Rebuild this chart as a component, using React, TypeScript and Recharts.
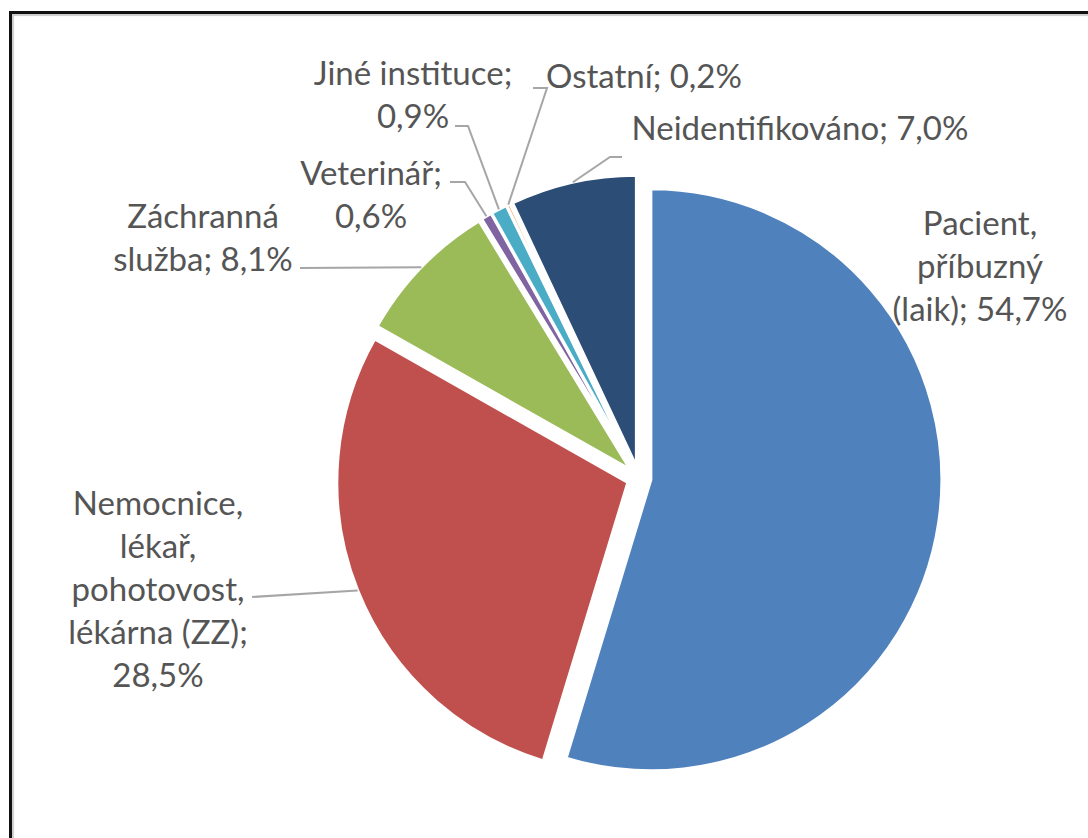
import { PieChart, Pie, Cell, Sector } from 'recharts'

// data
const categories = [
  'Pacient, příbuzný (laik)',
  'Nemocnice, lékař, pohotovost, lékárna (ZZ)',
  'Záchranná služba',
  'Veterinář',
  'Jiné instituce',
  'Ostatní',
  'Neidentifikováno',
]
const shares = [54.7, 28.5, 8.1, 0.6, 0.9, 0.2, 7.0]
const colors = ['#4F81BD', '#C0504D', '#9BBB59', '#8064A2', '#4BACC6', '#F79646', '#2C4D75']

// how many words go on each label line
const lineWords = [[1, 1, 2], [1, 1, 1, 2, 1], [1, 2], [1, 1], [2, 1], [2], [2]]

// label block centre (first line), relative to pie centre
const labelAnchor = [[341, -256], [-481, 24], [-436, -263], [-268, -306], [-226, -406], [5, -403], [161, -351]]
// leader line start (near the label) + horizontal elbow length
const leaderStart: ([number, number] | null)[] = [null, [-387, 119], [-339, -210], [-189, -296], [-184, -352], [-106, -390], [-17, -321]]
const leaderElbow = [0, 0, 0, 15, 13, 14, -12]

const data = categories.map((name, i) => ({ name, value: shares[i] }))

const W = 1088
const H = 838
const EXPLODE = 12
const RAD = Math.PI / 180
const LINE_H = 43
const FONT = 'Lato, "Open Sans", sans-serif'

const fmt = (v: number) => v.toFixed(1).replace('.', ',') + '%'

const ExplodedSector = (props: any) => {
  const { cx, cy, midAngle } = props
  return (
    <Sector
      {...props}
      cx={cx + EXPLODE * Math.cos(-midAngle * RAD)}
      cy={cy + EXPLODE * Math.sin(-midAngle * RAD)}
    />
  )
}

const renderLabel = (props: any) => {
  const { cx, cy, midAngle, outerRadius, index } = props
  const words = `${categories[index]}; ${fmt(shares[index])}`.split(' ')
  const lines: string[] = []
  let k = 0
  lineWords[index].forEach(n => {
    lines.push(words.slice(k, k + n).join(' '))
    k += n
  })
  const [ax, ay] = labelAnchor[index]
  const start = leaderStart[index]
  const r = outerRadius + EXPLODE
  const ex = cx + r * Math.cos(-midAngle * RAD)
  const ey = cy + r * Math.sin(-midAngle * RAD)
  return (
    <g key={`lbl-${index}`}>
      {start && (
        <polyline
          points={`${cx + start[0]},${cy + start[1]} ${cx + start[0] + leaderElbow[index]},${cy + start[1]} ${ex},${ey}`}
          fill="none"
          stroke="#A6A6A6"
          strokeWidth={2}
        />
      )}
      <text x={cx + ax} y={cy + ay} textAnchor="middle" dominantBaseline="central" fill="#555" fontSize={33} fontFamily={FONT}>
        {lines.map((t, j) => (
          <tspan key={j} x={cx + ax} dy={j === 0 ? 0 : LINE_H}>{t}</tspan>
        ))}
      </text>
    </g>
  )
}

export default function App() {
  return (
    <div style={{ position: 'relative', width: W, height: H, overflow: 'hidden', background: '#fff' }}>
      <style>{'body{margin:0}'}</style>
      <div style={{ position: 'absolute', left: 9, top: 11, width: 1200, height: 1000, border: '3px solid #111', boxShadow: 'inset 2px 2px 1px #ccc' }} />
      <div style={{ position: 'absolute', left: 0, top: 0 }}>
        <PieChart width={W} height={H} margin={{ top: 0, right: 0, bottom: 0, left: 0 }}>
          <Pie
            data={data}
            dataKey="value"
            nameKey="name"
            cx={639}
            cy={478}
            outerRadius={291}
            startAngle={90}
            endAngle={-270}
            stroke="#fff"
            strokeWidth={3}
            shape={ExplodedSector}
            label={renderLabel}
            labelLine={false}
            isAnimationActive={false}
          >
            {data.map((d, i) => (
              <Cell key={d.name} fill={colors[i]} />
            ))}
          </Pie>
        </PieChart>
      </div>
    </div>
  )
}
